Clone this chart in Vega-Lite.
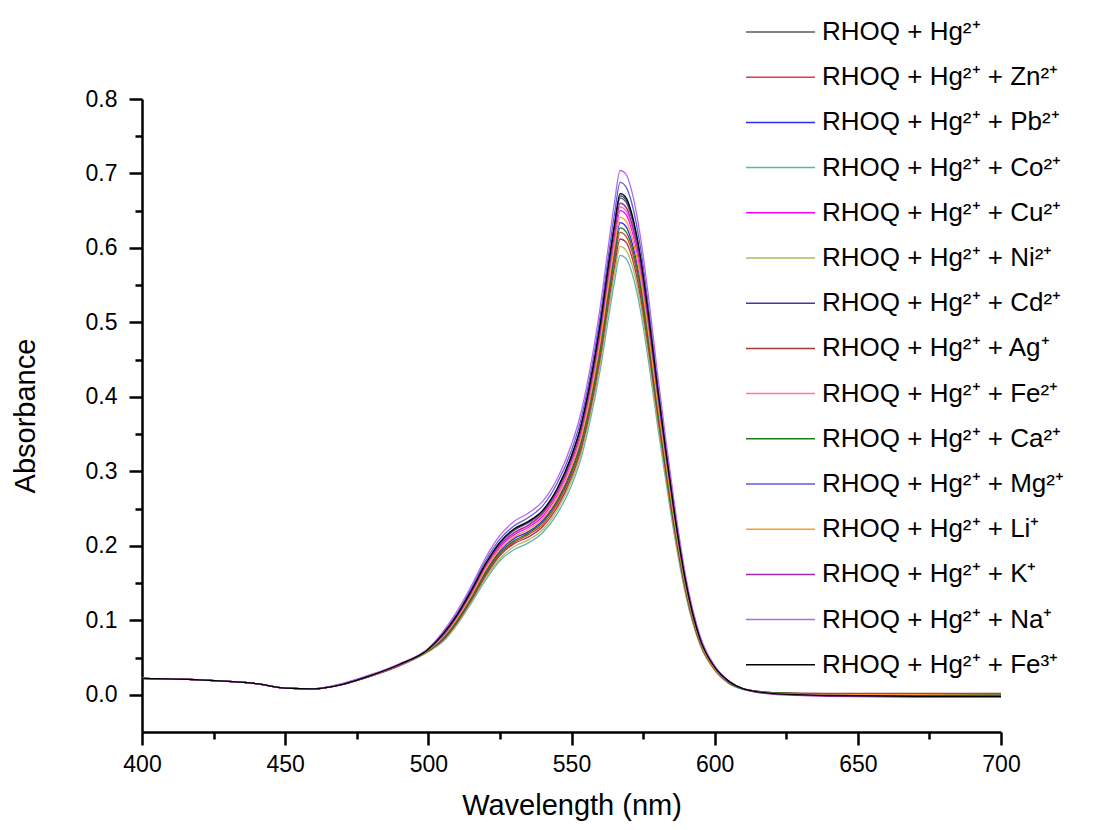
{
  "$schema": "https://vega.github.io/schema/vega-lite/v6.json",
  "width": 859,
  "height": 633,
  "autosize": {"type": "none"},
  "padding": {"left": 142, "top": 99, "right": 112, "bottom": 98},
  "background": "white",
  "config": {
    "view": {"stroke": null},
    "font": "Liberation Sans",
    "axis": {"grid": false, "domainColor": "black", "domainWidth": 2.5, "tickColor": "black", "tickWidth": 2.5, "labelColor": "black", "titleColor": "black", "labelFont": "Liberation Sans", "titleFont": "Liberation Sans", "labelFontSize": 23, "titleFontSize": 29, "titleFontWeight": "normal"}
  },
  "layer": [
    {
      "data": {"values": [
        {"s":"Hg²⁺","w":400,"a":0.022},{"s":"Hg²⁺","w":420,"a":0.020},{"s":"Hg²⁺","w":440,"a":0.015},{"s":"Hg²⁺","w":450,"a":0.009},{"s":"Hg²⁺","w":460,"a":0.008},{"s":"Hg²⁺","w":470,"a":0.014},{"s":"Hg²⁺","w":480,"a":0.026},{"s":"Hg²⁺","w":490,"a":0.040},{"s":"Hg²⁺","w":500,"a":0.060},
        {"s":"Hg²⁺","w":505,"a":0.080},{"s":"Hg²⁺","w":510,"a":0.106},{"s":"Hg²⁺","w":515,"a":0.139},{"s":"Hg²⁺","w":520,"a":0.174},{"s":"Hg²⁺","w":525,"a":0.203},{"s":"Hg²⁺","w":530,"a":0.221},{"s":"Hg²⁺","w":535,"a":0.231},{"s":"Hg²⁺","w":540,"a":0.246},{"s":"Hg²⁺","w":545,"a":0.275},{"s":"Hg²⁺","w":550,"a":0.318},{"s":"Hg²⁺","w":553,"a":0.354},{"s":"Hg²⁺","w":556,"a":0.405},{"s":"Hg²⁺","w":560,"a":0.492},{"s":"Hg²⁺","w":563,"a":0.575},{"s":"Hg²⁺","w":565,"a":0.626},{"s":"Hg²⁺","w":567,"a":0.667},{"s":"Hg²⁺","w":569,"a":0.662},{"s":"Hg²⁺","w":571,"a":0.641},{"s":"Hg²⁺","w":574,"a":0.585},{"s":"Hg²⁺","w":577,"a":0.503},{"s":"Hg²⁺","w":580,"a":0.410},{"s":"Hg²⁺","w":583,"a":0.323},{"s":"Hg²⁺","w":586,"a":0.241},{"s":"Hg²⁺","w":590,"a":0.149},{"s":"Hg²⁺","w":595,"a":0.074},{"s":"Hg²⁺","w":600,"a":0.037},{"s":"Hg²⁺","w":605,"a":0.017},{"s":"Hg²⁺","w":610,"a":0.008},{"s":"Hg²⁺","w":620,"a":0.002},{"s":"Hg²⁺","w":640,"a":0.000},{"s":"Hg²⁺","w":670,"a":-0.001},{"s":"Hg²⁺","w":700,"a":-0.001},

        {"s":"Hg²⁺ + Zn²⁺","w":400,"a":0.022},{"s":"Hg²⁺ + Zn²⁺","w":420,"a":0.020},{"s":"Hg²⁺ + Zn²⁺","w":440,"a":0.015},{"s":"Hg²⁺ + Zn²⁺","w":450,"a":0.009},{"s":"Hg²⁺ + Zn²⁺","w":460,"a":0.008},{"s":"Hg²⁺ + Zn²⁺","w":470,"a":0.014},{"s":"Hg²⁺ + Zn²⁺","w":480,"a":0.026},{"s":"Hg²⁺ + Zn²⁺","w":490,"a":0.040},{"s":"Hg²⁺ + Zn²⁺","w":500,"a":0.059},
        {"s":"Hg²⁺ + Zn²⁺","w":505,"a":0.074},{"s":"Hg²⁺ + Zn²⁺","w":510,"a":0.098},{"s":"Hg²⁺ + Zn²⁺","w":515,"a":0.129},{"s":"Hg²⁺ + Zn²⁺","w":520,"a":0.162},{"s":"Hg²⁺ + Zn²⁺","w":525,"a":0.189},{"s":"Hg²⁺ + Zn²⁺","w":530,"a":0.205},{"s":"Hg²⁺ + Zn²⁺","w":535,"a":0.215},{"s":"Hg²⁺ + Zn²⁺","w":540,"a":0.229},{"s":"Hg²⁺ + Zn²⁺","w":545,"a":0.256},{"s":"Hg²⁺ + Zn²⁺","w":550,"a":0.296},{"s":"Hg²⁺ + Zn²⁺","w":553,"a":0.329},{"s":"Hg²⁺ + Zn²⁺","w":556,"a":0.377},{"s":"Hg²⁺ + Zn²⁺","w":560,"a":0.458},{"s":"Hg²⁺ + Zn²⁺","w":563,"a":0.535},{"s":"Hg²⁺ + Zn²⁺","w":565,"a":0.583},{"s":"Hg²⁺ + Zn²⁺","w":567,"a":0.621},{"s":"Hg²⁺ + Zn²⁺","w":569,"a":0.616},{"s":"Hg²⁺ + Zn²⁺","w":571,"a":0.597},{"s":"Hg²⁺ + Zn²⁺","w":574,"a":0.544},{"s":"Hg²⁺ + Zn²⁺","w":577,"a":0.468},{"s":"Hg²⁺ + Zn²⁺","w":580,"a":0.382},{"s":"Hg²⁺ + Zn²⁺","w":583,"a":0.301},{"s":"Hg²⁺ + Zn²⁺","w":586,"a":0.224},{"s":"Hg²⁺ + Zn²⁺","w":590,"a":0.138},{"s":"Hg²⁺ + Zn²⁺","w":595,"a":0.069},{"s":"Hg²⁺ + Zn²⁺","w":600,"a":0.034},{"s":"Hg²⁺ + Zn²⁺","w":605,"a":0.016},{"s":"Hg²⁺ + Zn²⁺","w":610,"a":0.008},{"s":"Hg²⁺ + Zn²⁺","w":620,"a":0.003},{"s":"Hg²⁺ + Zn²⁺","w":640,"a":0.001},{"s":"Hg²⁺ + Zn²⁺","w":670,"a":0.001},{"s":"Hg²⁺ + Zn²⁺","w":700,"a":0.001},

        {"s":"Hg²⁺ + Pb²⁺","w":400,"a":0.022},{"s":"Hg²⁺ + Pb²⁺","w":420,"a":0.020},{"s":"Hg²⁺ + Pb²⁺","w":440,"a":0.015},{"s":"Hg²⁺ + Pb²⁺","w":450,"a":0.009},{"s":"Hg²⁺ + Pb²⁺","w":460,"a":0.008},{"s":"Hg²⁺ + Pb²⁺","w":470,"a":0.014},{"s":"Hg²⁺ + Pb²⁺","w":480,"a":0.026},{"s":"Hg²⁺ + Pb²⁺","w":490,"a":0.040},{"s":"Hg²⁺ + Pb²⁺","w":500,"a":0.060},
        {"s":"Hg²⁺ + Pb²⁺","w":505,"a":0.076},{"s":"Hg²⁺ + Pb²⁺","w":510,"a":0.100},{"s":"Hg²⁺ + Pb²⁺","w":515,"a":0.132},{"s":"Hg²⁺ + Pb²⁺","w":520,"a":0.166},{"s":"Hg²⁺ + Pb²⁺","w":525,"a":0.193},{"s":"Hg²⁺ + Pb²⁺","w":530,"a":0.210},{"s":"Hg²⁺ + Pb²⁺","w":535,"a":0.219},{"s":"Hg²⁺ + Pb²⁺","w":540,"a":0.234},{"s":"Hg²⁺ + Pb²⁺","w":545,"a":0.261},{"s":"Hg²⁺ + Pb²⁺","w":550,"a":0.302},{"s":"Hg²⁺ + Pb²⁺","w":553,"a":0.336},{"s":"Hg²⁺ + Pb²⁺","w":556,"a":0.385},{"s":"Hg²⁺ + Pb²⁺","w":560,"a":0.468},{"s":"Hg²⁺ + Pb²⁺","w":563,"a":0.546},{"s":"Hg²⁺ + Pb²⁺","w":565,"a":0.595},{"s":"Hg²⁺ + Pb²⁺","w":567,"a":0.634},{"s":"Hg²⁺ + Pb²⁺","w":569,"a":0.629},{"s":"Hg²⁺ + Pb²⁺","w":571,"a":0.609},{"s":"Hg²⁺ + Pb²⁺","w":574,"a":0.556},{"s":"Hg²⁺ + Pb²⁺","w":577,"a":0.478},{"s":"Hg²⁺ + Pb²⁺","w":580,"a":0.390},{"s":"Hg²⁺ + Pb²⁺","w":583,"a":0.307},{"s":"Hg²⁺ + Pb²⁺","w":586,"a":0.229},{"s":"Hg²⁺ + Pb²⁺","w":590,"a":0.141},{"s":"Hg²⁺ + Pb²⁺","w":595,"a":0.070},{"s":"Hg²⁺ + Pb²⁺","w":600,"a":0.035},{"s":"Hg²⁺ + Pb²⁺","w":605,"a":0.017},{"s":"Hg²⁺ + Pb²⁺","w":610,"a":0.008},{"s":"Hg²⁺ + Pb²⁺","w":620,"a":0.002},{"s":"Hg²⁺ + Pb²⁺","w":640,"a":0.000},{"s":"Hg²⁺ + Pb²⁺","w":670,"a":-0.001},{"s":"Hg²⁺ + Pb²⁺","w":700,"a":-0.002},

        {"s":"Hg²⁺ + Co²⁺","w":400,"a":0.022},{"s":"Hg²⁺ + Co²⁺","w":420,"a":0.020},{"s":"Hg²⁺ + Co²⁺","w":440,"a":0.015},{"s":"Hg²⁺ + Co²⁺","w":450,"a":0.009},{"s":"Hg²⁺ + Co²⁺","w":460,"a":0.008},{"s":"Hg²⁺ + Co²⁺","w":470,"a":0.014},{"s":"Hg²⁺ + Co²⁺","w":480,"a":0.025},{"s":"Hg²⁺ + Co²⁺","w":490,"a":0.039},{"s":"Hg²⁺ + Co²⁺","w":500,"a":0.058},
        {"s":"Hg²⁺ + Co²⁺","w":505,"a":0.071},{"s":"Hg²⁺ + Co²⁺","w":510,"a":0.094},{"s":"Hg²⁺ + Co²⁺","w":515,"a":0.123},{"s":"Hg²⁺ + Co²⁺","w":520,"a":0.154},{"s":"Hg²⁺ + Co²⁺","w":525,"a":0.180},{"s":"Hg²⁺ + Co²⁺","w":530,"a":0.195},{"s":"Hg²⁺ + Co²⁺","w":535,"a":0.204},{"s":"Hg²⁺ + Co²⁺","w":540,"a":0.218},{"s":"Hg²⁺ + Co²⁺","w":545,"a":0.243},{"s":"Hg²⁺ + Co²⁺","w":550,"a":0.281},{"s":"Hg²⁺ + Co²⁺","w":553,"a":0.313},{"s":"Hg²⁺ + Co²⁺","w":556,"a":0.359},{"s":"Hg²⁺ + Co²⁺","w":560,"a":0.436},{"s":"Hg²⁺ + Co²⁺","w":563,"a":0.508},{"s":"Hg²⁺ + Co²⁺","w":565,"a":0.554},{"s":"Hg²⁺ + Co²⁺","w":567,"a":0.590},{"s":"Hg²⁺ + Co²⁺","w":569,"a":0.586},{"s":"Hg²⁺ + Co²⁺","w":571,"a":0.568},{"s":"Hg²⁺ + Co²⁺","w":574,"a":0.518},{"s":"Hg²⁺ + Co²⁺","w":577,"a":0.445},{"s":"Hg²⁺ + Co²⁺","w":580,"a":0.363},{"s":"Hg²⁺ + Co²⁺","w":583,"a":0.286},{"s":"Hg²⁺ + Co²⁺","w":586,"a":0.213},{"s":"Hg²⁺ + Co²⁺","w":590,"a":0.132},{"s":"Hg²⁺ + Co²⁺","w":595,"a":0.066},{"s":"Hg²⁺ + Co²⁺","w":600,"a":0.033},{"s":"Hg²⁺ + Co²⁺","w":605,"a":0.015},{"s":"Hg²⁺ + Co²⁺","w":610,"a":0.007},{"s":"Hg²⁺ + Co²⁺","w":620,"a":0.002},{"s":"Hg²⁺ + Co²⁺","w":640,"a":0.000},{"s":"Hg²⁺ + Co²⁺","w":670,"a":0.000},{"s":"Hg²⁺ + Co²⁺","w":700,"a":0.000},

        {"s":"Hg²⁺ + Cu²⁺","w":400,"a":0.022},{"s":"Hg²⁺ + Cu²⁺","w":420,"a":0.020},{"s":"Hg²⁺ + Cu²⁺","w":440,"a":0.015},{"s":"Hg²⁺ + Cu²⁺","w":450,"a":0.009},{"s":"Hg²⁺ + Cu²⁺","w":460,"a":0.008},{"s":"Hg²⁺ + Cu²⁺","w":470,"a":0.014},{"s":"Hg²⁺ + Cu²⁺","w":480,"a":0.026},{"s":"Hg²⁺ + Cu²⁺","w":490,"a":0.040},{"s":"Hg²⁺ + Cu²⁺","w":500,"a":0.060},
        {"s":"Hg²⁺ + Cu²⁺","w":505,"a":0.078},{"s":"Hg²⁺ + Cu²⁺","w":510,"a":0.103},{"s":"Hg²⁺ + Cu²⁺","w":515,"a":0.135},{"s":"Hg²⁺ + Cu²⁺","w":520,"a":0.170},{"s":"Hg²⁺ + Cu²⁺","w":525,"a":0.198},{"s":"Hg²⁺ + Cu²⁺","w":530,"a":0.215},{"s":"Hg²⁺ + Cu²⁺","w":535,"a":0.225},{"s":"Hg²⁺ + Cu²⁺","w":540,"a":0.240},{"s":"Hg²⁺ + Cu²⁺","w":545,"a":0.268},{"s":"Hg²⁺ + Cu²⁺","w":550,"a":0.310},{"s":"Hg²⁺ + Cu²⁺","w":553,"a":0.345},{"s":"Hg²⁺ + Cu²⁺","w":556,"a":0.395},{"s":"Hg²⁺ + Cu²⁺","w":560,"a":0.480},{"s":"Hg²⁺ + Cu²⁺","w":563,"a":0.560},{"s":"Hg²⁺ + Cu²⁺","w":565,"a":0.610},{"s":"Hg²⁺ + Cu²⁺","w":567,"a":0.650},{"s":"Hg²⁺ + Cu²⁺","w":569,"a":0.645},{"s":"Hg²⁺ + Cu²⁺","w":571,"a":0.625},{"s":"Hg²⁺ + Cu²⁺","w":574,"a":0.570},{"s":"Hg²⁺ + Cu²⁺","w":577,"a":0.490},{"s":"Hg²⁺ + Cu²⁺","w":580,"a":0.400},{"s":"Hg²⁺ + Cu²⁺","w":583,"a":0.315},{"s":"Hg²⁺ + Cu²⁺","w":586,"a":0.235},{"s":"Hg²⁺ + Cu²⁺","w":590,"a":0.145},{"s":"Hg²⁺ + Cu²⁺","w":595,"a":0.072},{"s":"Hg²⁺ + Cu²⁺","w":600,"a":0.036},{"s":"Hg²⁺ + Cu²⁺","w":605,"a":0.017},{"s":"Hg²⁺ + Cu²⁺","w":610,"a":0.008},{"s":"Hg²⁺ + Cu²⁺","w":620,"a":0.002},{"s":"Hg²⁺ + Cu²⁺","w":640,"a":0.000},{"s":"Hg²⁺ + Cu²⁺","w":670,"a":-0.001},{"s":"Hg²⁺ + Cu²⁺","w":700,"a":-0.001},

        {"s":"Hg²⁺ + Ni²⁺","w":400,"a":0.022},{"s":"Hg²⁺ + Ni²⁺","w":420,"a":0.020},{"s":"Hg²⁺ + Ni²⁺","w":440,"a":0.015},{"s":"Hg²⁺ + Ni²⁺","w":450,"a":0.009},{"s":"Hg²⁺ + Ni²⁺","w":460,"a":0.008},{"s":"Hg²⁺ + Ni²⁺","w":470,"a":0.014},{"s":"Hg²⁺ + Ni²⁺","w":480,"a":0.025},{"s":"Hg²⁺ + Ni²⁺","w":490,"a":0.039},{"s":"Hg²⁺ + Ni²⁺","w":500,"a":0.058},
        {"s":"Hg²⁺ + Ni²⁺","w":505,"a":0.072},{"s":"Hg²⁺ + Ni²⁺","w":510,"a":0.095},{"s":"Hg²⁺ + Ni²⁺","w":515,"a":0.125},{"s":"Hg²⁺ + Ni²⁺","w":520,"a":0.157},{"s":"Hg²⁺ + Ni²⁺","w":525,"a":0.183},{"s":"Hg²⁺ + Ni²⁺","w":530,"a":0.199},{"s":"Hg²⁺ + Ni²⁺","w":535,"a":0.208},{"s":"Hg²⁺ + Ni²⁺","w":540,"a":0.222},{"s":"Hg²⁺ + Ni²⁺","w":545,"a":0.248},{"s":"Hg²⁺ + Ni²⁺","w":550,"a":0.287},{"s":"Hg²⁺ + Ni²⁺","w":553,"a":0.319},{"s":"Hg²⁺ + Ni²⁺","w":556,"a":0.366},{"s":"Hg²⁺ + Ni²⁺","w":560,"a":0.444},{"s":"Hg²⁺ + Ni²⁺","w":563,"a":0.519},{"s":"Hg²⁺ + Ni²⁺","w":565,"a":0.565},{"s":"Hg²⁺ + Ni²⁺","w":567,"a":0.602},{"s":"Hg²⁺ + Ni²⁺","w":569,"a":0.597},{"s":"Hg²⁺ + Ni²⁺","w":571,"a":0.579},{"s":"Hg²⁺ + Ni²⁺","w":574,"a":0.528},{"s":"Hg²⁺ + Ni²⁺","w":577,"a":0.454},{"s":"Hg²⁺ + Ni²⁺","w":580,"a":0.370},{"s":"Hg²⁺ + Ni²⁺","w":583,"a":0.292},{"s":"Hg²⁺ + Ni²⁺","w":586,"a":0.218},{"s":"Hg²⁺ + Ni²⁺","w":590,"a":0.134},{"s":"Hg²⁺ + Ni²⁺","w":595,"a":0.067},{"s":"Hg²⁺ + Ni²⁺","w":600,"a":0.033},{"s":"Hg²⁺ + Ni²⁺","w":605,"a":0.016},{"s":"Hg²⁺ + Ni²⁺","w":610,"a":0.008},{"s":"Hg²⁺ + Ni²⁺","w":620,"a":0.002},{"s":"Hg²⁺ + Ni²⁺","w":640,"a":0.001},{"s":"Hg²⁺ + Ni²⁺","w":670,"a":0.000},{"s":"Hg²⁺ + Ni²⁺","w":700,"a":0.000},

        {"s":"Hg²⁺ + Cd²⁺","w":400,"a":0.022},{"s":"Hg²⁺ + Cd²⁺","w":420,"a":0.020},{"s":"Hg²⁺ + Cd²⁺","w":440,"a":0.015},{"s":"Hg²⁺ + Cd²⁺","w":450,"a":0.009},{"s":"Hg²⁺ + Cd²⁺","w":460,"a":0.008},{"s":"Hg²⁺ + Cd²⁺","w":470,"a":0.014},{"s":"Hg²⁺ + Cd²⁺","w":480,"a":0.026},{"s":"Hg²⁺ + Cd²⁺","w":490,"a":0.041},{"s":"Hg²⁺ + Cd²⁺","w":500,"a":0.061},
        {"s":"Hg²⁺ + Cd²⁺","w":505,"a":0.080},{"s":"Hg²⁺ + Cd²⁺","w":510,"a":0.106},{"s":"Hg²⁺ + Cd²⁺","w":515,"a":0.139},{"s":"Hg²⁺ + Cd²⁺","w":520,"a":0.175},{"s":"Hg²⁺ + Cd²⁺","w":525,"a":0.204},{"s":"Hg²⁺ + Cd²⁺","w":530,"a":0.222},{"s":"Hg²⁺ + Cd²⁺","w":535,"a":0.232},{"s":"Hg²⁺ + Cd²⁺","w":540,"a":0.247},{"s":"Hg²⁺ + Cd²⁺","w":545,"a":0.276},{"s":"Hg²⁺ + Cd²⁺","w":550,"a":0.320},{"s":"Hg²⁺ + Cd²⁺","w":553,"a":0.356},{"s":"Hg²⁺ + Cd²⁺","w":556,"a":0.407},{"s":"Hg²⁺ + Cd²⁺","w":560,"a":0.495},{"s":"Hg²⁺ + Cd²⁺","w":563,"a":0.577},{"s":"Hg²⁺ + Cd²⁺","w":565,"a":0.629},{"s":"Hg²⁺ + Cd²⁺","w":567,"a":0.670},{"s":"Hg²⁺ + Cd²⁺","w":569,"a":0.665},{"s":"Hg²⁺ + Cd²⁺","w":571,"a":0.644},{"s":"Hg²⁺ + Cd²⁺","w":574,"a":0.588},{"s":"Hg²⁺ + Cd²⁺","w":577,"a":0.505},{"s":"Hg²⁺ + Cd²⁺","w":580,"a":0.412},{"s":"Hg²⁺ + Cd²⁺","w":583,"a":0.325},{"s":"Hg²⁺ + Cd²⁺","w":586,"a":0.242},{"s":"Hg²⁺ + Cd²⁺","w":590,"a":0.149},{"s":"Hg²⁺ + Cd²⁺","w":595,"a":0.074},{"s":"Hg²⁺ + Cd²⁺","w":600,"a":0.037},{"s":"Hg²⁺ + Cd²⁺","w":605,"a":0.018},{"s":"Hg²⁺ + Cd²⁺","w":610,"a":0.008},{"s":"Hg²⁺ + Cd²⁺","w":620,"a":0.002},{"s":"Hg²⁺ + Cd²⁺","w":640,"a":-0.001},{"s":"Hg²⁺ + Cd²⁺","w":670,"a":-0.002},{"s":"Hg²⁺ + Cd²⁺","w":700,"a":-0.002},

        {"s":"Hg²⁺ + Ag⁺","w":400,"a":0.022},{"s":"Hg²⁺ + Ag⁺","w":420,"a":0.020},{"s":"Hg²⁺ + Ag⁺","w":440,"a":0.015},{"s":"Hg²⁺ + Ag⁺","w":450,"a":0.009},{"s":"Hg²⁺ + Ag⁺","w":460,"a":0.008},{"s":"Hg²⁺ + Ag⁺","w":470,"a":0.014},{"s":"Hg²⁺ + Ag⁺","w":480,"a":0.025},{"s":"Hg²⁺ + Ag⁺","w":490,"a":0.039},{"s":"Hg²⁺ + Ag⁺","w":500,"a":0.059},
        {"s":"Hg²⁺ + Ag⁺","w":505,"a":0.073},{"s":"Hg²⁺ + Ag⁺","w":510,"a":0.097},{"s":"Hg²⁺ + Ag⁺","w":515,"a":0.127},{"s":"Hg²⁺ + Ag⁺","w":520,"a":0.160},{"s":"Hg²⁺ + Ag⁺","w":525,"a":0.187},{"s":"Hg²⁺ + Ag⁺","w":530,"a":0.203},{"s":"Hg²⁺ + Ag⁺","w":535,"a":0.212},{"s":"Hg²⁺ + Ag⁺","w":540,"a":0.226},{"s":"Hg²⁺ + Ag⁺","w":545,"a":0.252},{"s":"Hg²⁺ + Ag⁺","w":550,"a":0.292},{"s":"Hg²⁺ + Ag⁺","w":553,"a":0.325},{"s":"Hg²⁺ + Ag⁺","w":556,"a":0.372},{"s":"Hg²⁺ + Ag⁺","w":560,"a":0.452},{"s":"Hg²⁺ + Ag⁺","w":563,"a":0.528},{"s":"Hg²⁺ + Ag⁺","w":565,"a":0.575},{"s":"Hg²⁺ + Ag⁺","w":567,"a":0.612},{"s":"Hg²⁺ + Ag⁺","w":569,"a":0.608},{"s":"Hg²⁺ + Ag⁺","w":571,"a":0.589},{"s":"Hg²⁺ + Ag⁺","w":574,"a":0.537},{"s":"Hg²⁺ + Ag⁺","w":577,"a":0.462},{"s":"Hg²⁺ + Ag⁺","w":580,"a":0.377},{"s":"Hg²⁺ + Ag⁺","w":583,"a":0.297},{"s":"Hg²⁺ + Ag⁺","w":586,"a":0.221},{"s":"Hg²⁺ + Ag⁺","w":590,"a":0.137},{"s":"Hg²⁺ + Ag⁺","w":595,"a":0.068},{"s":"Hg²⁺ + Ag⁺","w":600,"a":0.034},{"s":"Hg²⁺ + Ag⁺","w":605,"a":0.016},{"s":"Hg²⁺ + Ag⁺","w":610,"a":0.008},{"s":"Hg²⁺ + Ag⁺","w":620,"a":0.003},{"s":"Hg²⁺ + Ag⁺","w":640,"a":0.002},{"s":"Hg²⁺ + Ag⁺","w":670,"a":0.002},{"s":"Hg²⁺ + Ag⁺","w":700,"a":0.002},

        {"s":"Hg²⁺ + Fe²⁺","w":400,"a":0.022},{"s":"Hg²⁺ + Fe²⁺","w":420,"a":0.020},{"s":"Hg²⁺ + Fe²⁺","w":440,"a":0.015},{"s":"Hg²⁺ + Fe²⁺","w":450,"a":0.009},{"s":"Hg²⁺ + Fe²⁺","w":460,"a":0.008},{"s":"Hg²⁺ + Fe²⁺","w":470,"a":0.014},{"s":"Hg²⁺ + Fe²⁺","w":480,"a":0.026},{"s":"Hg²⁺ + Fe²⁺","w":490,"a":0.040},{"s":"Hg²⁺ + Fe²⁺","w":500,"a":0.060},
        {"s":"Hg²⁺ + Fe²⁺","w":505,"a":0.079},{"s":"Hg²⁺ + Fe²⁺","w":510,"a":0.104},{"s":"Hg²⁺ + Fe²⁺","w":515,"a":0.136},{"s":"Hg²⁺ + Fe²⁺","w":520,"a":0.171},{"s":"Hg²⁺ + Fe²⁺","w":525,"a":0.200},{"s":"Hg²⁺ + Fe²⁺","w":530,"a":0.217},{"s":"Hg²⁺ + Fe²⁺","w":535,"a":0.227},{"s":"Hg²⁺ + Fe²⁺","w":540,"a":0.242},{"s":"Hg²⁺ + Fe²⁺","w":545,"a":0.270},{"s":"Hg²⁺ + Fe²⁺","w":550,"a":0.312},{"s":"Hg²⁺ + Fe²⁺","w":553,"a":0.348},{"s":"Hg²⁺ + Fe²⁺","w":556,"a":0.398},{"s":"Hg²⁺ + Fe²⁺","w":560,"a":0.484},{"s":"Hg²⁺ + Fe²⁺","w":563,"a":0.564},{"s":"Hg²⁺ + Fe²⁺","w":565,"a":0.615},{"s":"Hg²⁺ + Fe²⁺","w":567,"a":0.655},{"s":"Hg²⁺ + Fe²⁺","w":569,"a":0.650},{"s":"Hg²⁺ + Fe²⁺","w":571,"a":0.630},{"s":"Hg²⁺ + Fe²⁺","w":574,"a":0.575},{"s":"Hg²⁺ + Fe²⁺","w":577,"a":0.494},{"s":"Hg²⁺ + Fe²⁺","w":580,"a":0.403},{"s":"Hg²⁺ + Fe²⁺","w":583,"a":0.318},{"s":"Hg²⁺ + Fe²⁺","w":586,"a":0.237},{"s":"Hg²⁺ + Fe²⁺","w":590,"a":0.146},{"s":"Hg²⁺ + Fe²⁺","w":595,"a":0.073},{"s":"Hg²⁺ + Fe²⁺","w":600,"a":0.036},{"s":"Hg²⁺ + Fe²⁺","w":605,"a":0.017},{"s":"Hg²⁺ + Fe²⁺","w":610,"a":0.008},{"s":"Hg²⁺ + Fe²⁺","w":620,"a":0.002},{"s":"Hg²⁺ + Fe²⁺","w":640,"a":0.001},{"s":"Hg²⁺ + Fe²⁺","w":670,"a":0.001},{"s":"Hg²⁺ + Fe²⁺","w":700,"a":0.001},

        {"s":"Hg²⁺ + Ca²⁺","w":400,"a":0.022},{"s":"Hg²⁺ + Ca²⁺","w":420,"a":0.020},{"s":"Hg²⁺ + Ca²⁺","w":440,"a":0.015},{"s":"Hg²⁺ + Ca²⁺","w":450,"a":0.009},{"s":"Hg²⁺ + Ca²⁺","w":460,"a":0.008},{"s":"Hg²⁺ + Ca²⁺","w":470,"a":0.014},{"s":"Hg²⁺ + Ca²⁺","w":480,"a":0.026},{"s":"Hg²⁺ + Ca²⁺","w":490,"a":0.040},{"s":"Hg²⁺ + Ca²⁺","w":500,"a":0.059},
        {"s":"Hg²⁺ + Ca²⁺","w":505,"a":0.075},{"s":"Hg²⁺ + Ca²⁺","w":510,"a":0.099},{"s":"Hg²⁺ + Ca²⁺","w":515,"a":0.130},{"s":"Hg²⁺ + Ca²⁺","w":520,"a":0.164},{"s":"Hg²⁺ + Ca²⁺","w":525,"a":0.191},{"s":"Hg²⁺ + Ca²⁺","w":530,"a":0.207},{"s":"Hg²⁺ + Ca²⁺","w":535,"a":0.217},{"s":"Hg²⁺ + Ca²⁺","w":540,"a":0.232},{"s":"Hg²⁺ + Ca²⁺","w":545,"a":0.259},{"s":"Hg²⁺ + Ca²⁺","w":550,"a":0.299},{"s":"Hg²⁺ + Ca²⁺","w":553,"a":0.333},{"s":"Hg²⁺ + Ca²⁺","w":556,"a":0.381},{"s":"Hg²⁺ + Ca²⁺","w":560,"a":0.463},{"s":"Hg²⁺ + Ca²⁺","w":563,"a":0.540},{"s":"Hg²⁺ + Ca²⁺","w":565,"a":0.589},{"s":"Hg²⁺ + Ca²⁺","w":567,"a":0.627},{"s":"Hg²⁺ + Ca²⁺","w":569,"a":0.622},{"s":"Hg²⁺ + Ca²⁺","w":571,"a":0.603},{"s":"Hg²⁺ + Ca²⁺","w":574,"a":0.550},{"s":"Hg²⁺ + Ca²⁺","w":577,"a":0.473},{"s":"Hg²⁺ + Ca²⁺","w":580,"a":0.386},{"s":"Hg²⁺ + Ca²⁺","w":583,"a":0.304},{"s":"Hg²⁺ + Ca²⁺","w":586,"a":0.227},{"s":"Hg²⁺ + Ca²⁺","w":590,"a":0.140},{"s":"Hg²⁺ + Ca²⁺","w":595,"a":0.070},{"s":"Hg²⁺ + Ca²⁺","w":600,"a":0.035},{"s":"Hg²⁺ + Ca²⁺","w":605,"a":0.016},{"s":"Hg²⁺ + Ca²⁺","w":610,"a":0.008},{"s":"Hg²⁺ + Ca²⁺","w":620,"a":0.003},{"s":"Hg²⁺ + Ca²⁺","w":640,"a":0.001},{"s":"Hg²⁺ + Ca²⁺","w":670,"a":0.001},{"s":"Hg²⁺ + Ca²⁺","w":700,"a":0.001},

        {"s":"Hg²⁺ + Mg²⁺","w":400,"a":0.022},{"s":"Hg²⁺ + Mg²⁺","w":420,"a":0.020},{"s":"Hg²⁺ + Mg²⁺","w":440,"a":0.015},{"s":"Hg²⁺ + Mg²⁺","w":450,"a":0.009},{"s":"Hg²⁺ + Mg²⁺","w":460,"a":0.008},{"s":"Hg²⁺ + Mg²⁺","w":470,"a":0.015},{"s":"Hg²⁺ + Mg²⁺","w":480,"a":0.027},{"s":"Hg²⁺ + Mg²⁺","w":490,"a":0.041},{"s":"Hg²⁺ + Mg²⁺","w":500,"a":0.062},
        {"s":"Hg²⁺ + Mg²⁺","w":505,"a":0.083},{"s":"Hg²⁺ + Mg²⁺","w":510,"a":0.109},{"s":"Hg²⁺ + Mg²⁺","w":515,"a":0.143},{"s":"Hg²⁺ + Mg²⁺","w":520,"a":0.180},{"s":"Hg²⁺ + Mg²⁺","w":525,"a":0.209},{"s":"Hg²⁺ + Mg²⁺","w":530,"a":0.227},{"s":"Hg²⁺ + Mg²⁺","w":535,"a":0.238},{"s":"Hg²⁺ + Mg²⁺","w":540,"a":0.254},{"s":"Hg²⁺ + Mg²⁺","w":545,"a":0.284},{"s":"Hg²⁺ + Mg²⁺","w":550,"a":0.328},{"s":"Hg²⁺ + Mg²⁺","w":553,"a":0.365},{"s":"Hg²⁺ + Mg²⁺","w":556,"a":0.418},{"s":"Hg²⁺ + Mg²⁺","w":560,"a":0.508},{"s":"Hg²⁺ + Mg²⁺","w":563,"a":0.592},{"s":"Hg²⁺ + Mg²⁺","w":565,"a":0.645},{"s":"Hg²⁺ + Mg²⁺","w":567,"a":0.688},{"s":"Hg²⁺ + Mg²⁺","w":569,"a":0.682},{"s":"Hg²⁺ + Mg²⁺","w":571,"a":0.661},{"s":"Hg²⁺ + Mg²⁺","w":574,"a":0.603},{"s":"Hg²⁺ + Mg²⁺","w":577,"a":0.518},{"s":"Hg²⁺ + Mg²⁺","w":580,"a":0.423},{"s":"Hg²⁺ + Mg²⁺","w":583,"a":0.333},{"s":"Hg²⁺ + Mg²⁺","w":586,"a":0.249},{"s":"Hg²⁺ + Mg²⁺","w":590,"a":0.153},{"s":"Hg²⁺ + Mg²⁺","w":595,"a":0.076},{"s":"Hg²⁺ + Mg²⁺","w":600,"a":0.038},{"s":"Hg²⁺ + Mg²⁺","w":605,"a":0.018},{"s":"Hg²⁺ + Mg²⁺","w":610,"a":0.008},{"s":"Hg²⁺ + Mg²⁺","w":620,"a":0.002},{"s":"Hg²⁺ + Mg²⁺","w":640,"a":-0.001},{"s":"Hg²⁺ + Mg²⁺","w":670,"a":-0.002},{"s":"Hg²⁺ + Mg²⁺","w":700,"a":-0.002},

        {"s":"Hg²⁺ + Li⁺","w":400,"a":0.022},{"s":"Hg²⁺ + Li⁺","w":420,"a":0.020},{"s":"Hg²⁺ + Li⁺","w":440,"a":0.015},{"s":"Hg²⁺ + Li⁺","w":450,"a":0.009},{"s":"Hg²⁺ + Li⁺","w":460,"a":0.008},{"s":"Hg²⁺ + Li⁺","w":470,"a":0.014},{"s":"Hg²⁺ + Li⁺","w":480,"a":0.026},{"s":"Hg²⁺ + Li⁺","w":490,"a":0.040},{"s":"Hg²⁺ + Li⁺","w":500,"a":0.060},
        {"s":"Hg²⁺ + Li⁺","w":505,"a":0.077},{"s":"Hg²⁺ + Li⁺","w":510,"a":0.102},{"s":"Hg²⁺ + Li⁺","w":515,"a":0.133},{"s":"Hg²⁺ + Li⁺","w":520,"a":0.168},{"s":"Hg²⁺ + Li⁺","w":525,"a":0.195},{"s":"Hg²⁺ + Li⁺","w":530,"a":0.212},{"s":"Hg²⁺ + Li⁺","w":535,"a":0.222},{"s":"Hg²⁺ + Li⁺","w":540,"a":0.237},{"s":"Hg²⁺ + Li⁺","w":545,"a":0.264},{"s":"Hg²⁺ + Li⁺","w":550,"a":0.306},{"s":"Hg²⁺ + Li⁺","w":553,"a":0.340},{"s":"Hg²⁺ + Li⁺","w":556,"a":0.389},{"s":"Hg²⁺ + Li⁺","w":560,"a":0.473},{"s":"Hg²⁺ + Li⁺","w":563,"a":0.552},{"s":"Hg²⁺ + Li⁺","w":565,"a":0.601},{"s":"Hg²⁺ + Li⁺","w":567,"a":0.641},{"s":"Hg²⁺ + Li⁺","w":569,"a":0.636},{"s":"Hg²⁺ + Li⁺","w":571,"a":0.616},{"s":"Hg²⁺ + Li⁺","w":574,"a":0.562},{"s":"Hg²⁺ + Li⁺","w":577,"a":0.483},{"s":"Hg²⁺ + Li⁺","w":580,"a":0.394},{"s":"Hg²⁺ + Li⁺","w":583,"a":0.311},{"s":"Hg²⁺ + Li⁺","w":586,"a":0.232},{"s":"Hg²⁺ + Li⁺","w":590,"a":0.143},{"s":"Hg²⁺ + Li⁺","w":595,"a":0.071},{"s":"Hg²⁺ + Li⁺","w":600,"a":0.035},{"s":"Hg²⁺ + Li⁺","w":605,"a":0.017},{"s":"Hg²⁺ + Li⁺","w":610,"a":0.008},{"s":"Hg²⁺ + Li⁺","w":620,"a":0.002},{"s":"Hg²⁺ + Li⁺","w":640,"a":0.000},{"s":"Hg²⁺ + Li⁺","w":670,"a":0.000},{"s":"Hg²⁺ + Li⁺","w":700,"a":-0.001},

        {"s":"Hg²⁺ + K⁺","w":400,"a":0.022},{"s":"Hg²⁺ + K⁺","w":420,"a":0.020},{"s":"Hg²⁺ + K⁺","w":440,"a":0.015},{"s":"Hg²⁺ + K⁺","w":450,"a":0.009},{"s":"Hg²⁺ + K⁺","w":460,"a":0.008},{"s":"Hg²⁺ + K⁺","w":470,"a":0.014},{"s":"Hg²⁺ + K⁺","w":480,"a":0.026},{"s":"Hg²⁺ + K⁺","w":490,"a":0.040},{"s":"Hg²⁺ + K⁺","w":500,"a":0.061},
        {"s":"Hg²⁺ + K⁺","w":505,"a":0.079},{"s":"Hg²⁺ + K⁺","w":510,"a":0.105},{"s":"Hg²⁺ + K⁺","w":515,"a":0.137},{"s":"Hg²⁺ + K⁺","w":520,"a":0.173},{"s":"Hg²⁺ + K⁺","w":525,"a":0.201},{"s":"Hg²⁺ + K⁺","w":530,"a":0.218},{"s":"Hg²⁺ + K⁺","w":535,"a":0.228},{"s":"Hg²⁺ + K⁺","w":540,"a":0.244},{"s":"Hg²⁺ + K⁺","w":545,"a":0.272},{"s":"Hg²⁺ + K⁺","w":550,"a":0.315},{"s":"Hg²⁺ + K⁺","w":553,"a":0.350},{"s":"Hg²⁺ + K⁺","w":556,"a":0.401},{"s":"Hg²⁺ + K⁺","w":560,"a":0.487},{"s":"Hg²⁺ + K⁺","w":563,"a":0.568},{"s":"Hg²⁺ + K⁺","w":565,"a":0.619},{"s":"Hg²⁺ + K⁺","w":567,"a":0.660},{"s":"Hg²⁺ + K⁺","w":569,"a":0.655},{"s":"Hg²⁺ + K⁺","w":571,"a":0.634},{"s":"Hg²⁺ + K⁺","w":574,"a":0.579},{"s":"Hg²⁺ + K⁺","w":577,"a":0.497},{"s":"Hg²⁺ + K⁺","w":580,"a":0.406},{"s":"Hg²⁺ + K⁺","w":583,"a":0.320},{"s":"Hg²⁺ + K⁺","w":586,"a":0.239},{"s":"Hg²⁺ + K⁺","w":590,"a":0.147},{"s":"Hg²⁺ + K⁺","w":595,"a":0.073},{"s":"Hg²⁺ + K⁺","w":600,"a":0.037},{"s":"Hg²⁺ + K⁺","w":605,"a":0.017},{"s":"Hg²⁺ + K⁺","w":610,"a":0.008},{"s":"Hg²⁺ + K⁺","w":620,"a":0.001},{"s":"Hg²⁺ + K⁺","w":640,"a":-0.002},{"s":"Hg²⁺ + K⁺","w":670,"a":-0.003},{"s":"Hg²⁺ + K⁺","w":700,"a":-0.003},

        {"s":"Hg²⁺ + Na⁺","w":400,"a":0.022},{"s":"Hg²⁺ + Na⁺","w":420,"a":0.020},{"s":"Hg²⁺ + Na⁺","w":440,"a":0.015},{"s":"Hg²⁺ + Na⁺","w":450,"a":0.009},{"s":"Hg²⁺ + Na⁺","w":460,"a":0.008},{"s":"Hg²⁺ + Na⁺","w":470,"a":0.015},{"s":"Hg²⁺ + Na⁺","w":480,"a":0.027},{"s":"Hg²⁺ + Na⁺","w":490,"a":0.042},{"s":"Hg²⁺ + Na⁺","w":500,"a":0.062},
        {"s":"Hg²⁺ + Na⁺","w":505,"a":0.084},{"s":"Hg²⁺ + Na⁺","w":510,"a":0.112},{"s":"Hg²⁺ + Na⁺","w":515,"a":0.146},{"s":"Hg²⁺ + Na⁺","w":520,"a":0.184},{"s":"Hg²⁺ + Na⁺","w":525,"a":0.214},{"s":"Hg²⁺ + Na⁺","w":530,"a":0.233},{"s":"Hg²⁺ + Na⁺","w":535,"a":0.244},{"s":"Hg²⁺ + Na⁺","w":540,"a":0.260},{"s":"Hg²⁺ + Na⁺","w":545,"a":0.290},{"s":"Hg²⁺ + Na⁺","w":550,"a":0.336},{"s":"Hg²⁺ + Na⁺","w":553,"a":0.374},{"s":"Hg²⁺ + Na⁺","w":556,"a":0.428},{"s":"Hg²⁺ + Na⁺","w":560,"a":0.520},{"s":"Hg²⁺ + Na⁺","w":563,"a":0.606},{"s":"Hg²⁺ + Na⁺","w":565,"a":0.661},{"s":"Hg²⁺ + Na⁺","w":567,"a":0.704},{"s":"Hg²⁺ + Na⁺","w":569,"a":0.699},{"s":"Hg²⁺ + Na⁺","w":571,"a":0.677},{"s":"Hg²⁺ + Na⁺","w":574,"a":0.617},{"s":"Hg²⁺ + Na⁺","w":577,"a":0.531},{"s":"Hg²⁺ + Na⁺","w":580,"a":0.433},{"s":"Hg²⁺ + Na⁺","w":583,"a":0.341},{"s":"Hg²⁺ + Na⁺","w":586,"a":0.255},{"s":"Hg²⁺ + Na⁺","w":590,"a":0.157},{"s":"Hg²⁺ + Na⁺","w":595,"a":0.078},{"s":"Hg²⁺ + Na⁺","w":600,"a":0.039},{"s":"Hg²⁺ + Na⁺","w":605,"a":0.018},{"s":"Hg²⁺ + Na⁺","w":610,"a":0.008},{"s":"Hg²⁺ + Na⁺","w":620,"a":0.002},{"s":"Hg²⁺ + Na⁺","w":640,"a":-0.001},{"s":"Hg²⁺ + Na⁺","w":670,"a":-0.002},{"s":"Hg²⁺ + Na⁺","w":700,"a":-0.002},

        {"s":"Hg²⁺ + Fe³⁺","w":400,"a":0.022},{"s":"Hg²⁺ + Fe³⁺","w":420,"a":0.020},{"s":"Hg²⁺ + Fe³⁺","w":440,"a":0.015},{"s":"Hg²⁺ + Fe³⁺","w":450,"a":0.009},{"s":"Hg²⁺ + Fe³⁺","w":460,"a":0.008},{"s":"Hg²⁺ + Fe³⁺","w":470,"a":0.014},{"s":"Hg²⁺ + Fe³⁺","w":480,"a":0.026},{"s":"Hg²⁺ + Fe³⁺","w":490,"a":0.041},{"s":"Hg²⁺ + Fe³⁺","w":500,"a":0.061},
        {"s":"Hg²⁺ + Fe³⁺","w":505,"a":0.081},{"s":"Hg²⁺ + Fe³⁺","w":510,"a":0.107},{"s":"Hg²⁺ + Fe³⁺","w":515,"a":0.140},{"s":"Hg²⁺ + Fe³⁺","w":520,"a":0.176},{"s":"Hg²⁺ + Fe³⁺","w":525,"a":0.205},{"s":"Hg²⁺ + Fe³⁺","w":530,"a":0.223},{"s":"Hg²⁺ + Fe³⁺","w":535,"a":0.233},{"s":"Hg²⁺ + Fe³⁺","w":540,"a":0.248},{"s":"Hg²⁺ + Fe³⁺","w":545,"a":0.277},{"s":"Hg²⁺ + Fe³⁺","w":550,"a":0.321},{"s":"Hg²⁺ + Fe³⁺","w":553,"a":0.357},{"s":"Hg²⁺ + Fe³⁺","w":556,"a":0.409},{"s":"Hg²⁺ + Fe³⁺","w":560,"a":0.497},{"s":"Hg²⁺ + Fe³⁺","w":563,"a":0.580},{"s":"Hg²⁺ + Fe³⁺","w":565,"a":0.631},{"s":"Hg²⁺ + Fe³⁺","w":567,"a":0.673},{"s":"Hg²⁺ + Fe³⁺","w":569,"a":0.668},{"s":"Hg²⁺ + Fe³⁺","w":571,"a":0.647},{"s":"Hg²⁺ + Fe³⁺","w":574,"a":0.590},{"s":"Hg²⁺ + Fe³⁺","w":577,"a":0.507},{"s":"Hg²⁺ + Fe³⁺","w":580,"a":0.414},{"s":"Hg²⁺ + Fe³⁺","w":583,"a":0.326},{"s":"Hg²⁺ + Fe³⁺","w":586,"a":0.243},{"s":"Hg²⁺ + Fe³⁺","w":590,"a":0.150},{"s":"Hg²⁺ + Fe³⁺","w":595,"a":0.074},{"s":"Hg²⁺ + Fe³⁺","w":600,"a":0.037},{"s":"Hg²⁺ + Fe³⁺","w":605,"a":0.018},{"s":"Hg²⁺ + Fe³⁺","w":610,"a":0.008},{"s":"Hg²⁺ + Fe³⁺","w":620,"a":0.002},{"s":"Hg²⁺ + Fe³⁺","w":640,"a":-0.001},{"s":"Hg²⁺ + Fe³⁺","w":670,"a":-0.002},{"s":"Hg²⁺ + Fe³⁺","w":700,"a":-0.002}
      ]},
      "mark": {"type": "line", "interpolate": "monotone", "strokeWidth": 1.3, "clip": true},
      "encoding": {
        "x": {"field": "w", "type": "quantitative", "scale": {"domain": [400, 700], "nice": false, "zero": false},
          "axis": {"orient": "bottom", "title": "Wavelength (nm)", "values": [400, 450, 500, 550, 600, 650, 700], "tickSize": 13, "labelPadding": 8, "titlePadding": 15, "labelFlush": false}},
        "y": {"field": "a", "type": "quantitative", "scale": {"domain": [-0.05, 0.8], "nice": false, "zero": false},
          "axis": {"orient": "left", "title": "Absorbance", "values": [0, 0.1, 0.2, 0.3, 0.4, 0.5, 0.6, 0.7, 0.8], "format": ".1f", "tickSize": 13, "labelPadding": 12, "titlePadding": 45, "labelFlush": false}},
        "color": {"field": "s", "type": "nominal",
          "scale": {"domain": ["Hg²⁺", "Hg²⁺ + Zn²⁺", "Hg²⁺ + Pb²⁺", "Hg²⁺ + Co²⁺", "Hg²⁺ + Cu²⁺", "Hg²⁺ + Ni²⁺", "Hg²⁺ + Cd²⁺", "Hg²⁺ + Ag⁺", "Hg²⁺ + Fe²⁺", "Hg²⁺ + Ca²⁺", "Hg²⁺ + Mg²⁺", "Hg²⁺ + Li⁺", "Hg²⁺ + K⁺", "Hg²⁺ + Na⁺", "Hg²⁺ + Fe³⁺"],
            "range": ["#5a5a5a", "#e8383d", "#2828ff", "#5fb3a9", "#ff00ff", "#b5b565", "#3c3c9c", "#a33a3a", "#ff72b4", "#1f7a1f", "#5c5cd6", "#ff9a2e", "#a028a8", "#b468f2", "#000000"]},
          "legend": {"orient": "none", "legendX": 625.5, "legendY": -80, "title": null, "padding": 0, "symbolType": "M-3.45,0H3.45", "symbolSize": 400, "symbolStrokeWidth": 1.5, "labelFont": "Liberation Sans", "labelFontSize": 26, "labelColor": "black", "labelOffset": 28.5, "rowPadding": 19.2, "labelLimit": 400, "labelExpr": "'RHOQ + ' + datum.label"}
        }
      }
    },
    {
      "data": {"values": []},
      "mark": {"type": "point", "opacity": 0},
      "encoding": {
        "x": {"field": "w", "type": "quantitative", "scale": {"domain": [400, 700], "nice": false, "zero": false},
          "axis": {"orient": "bottom", "title": null, "labels": false, "domain": false, "values": [425, 475, 525, 575, 625, 675], "tickSize": 7}},
        "y": {"field": "a", "type": "quantitative", "scale": {"domain": [-0.05, 0.8], "nice": false, "zero": false},
          "axis": {"orient": "left", "title": null, "labels": false, "domain": false, "values": [0.05, 0.15, 0.25, 0.35, 0.45, 0.55, 0.65, 0.75], "tickSize": 7}}
      }
    }
  ],
  "resolve": {"axis": {"x": "independent", "y": "independent"}}
}
